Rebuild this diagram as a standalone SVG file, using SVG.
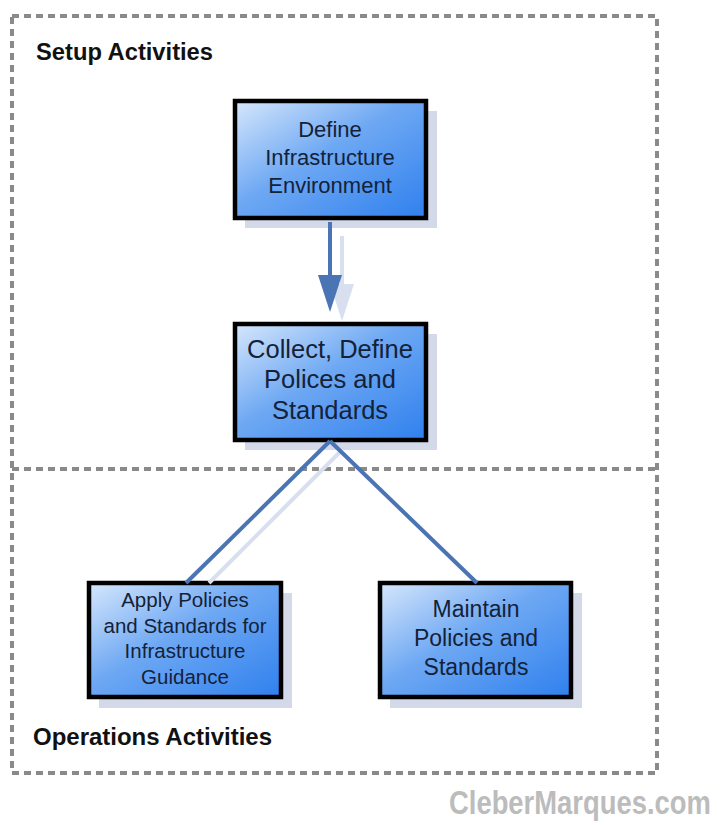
<svg xmlns="http://www.w3.org/2000/svg" width="721" height="825" viewBox="0 0 721 825">
<defs>
<linearGradient id="g" x1="0" y1="0" x2="1" y2="1">
<stop offset="0" stop-color="#d6e7fc"/>
<stop offset="0.45" stop-color="#6ea8f3"/>
<stop offset="1" stop-color="#2f80ee"/>
</linearGradient>
<style>
.box{fill:url(#g);stroke:#000;stroke-width:4.5}
.sh{fill:#d3d9e8}
.t{font-family:"Liberation Sans",Arial,sans-serif;fill:#142238;text-anchor:middle}
.lbl{font-family:"Liberation Sans",Arial,sans-serif;font-weight:bold;font-size:23px;fill:#111}
.dash{fill:none;stroke:#8a8a8a;stroke-width:4;stroke-dasharray:7,5}
.con{stroke:#4a74b4;stroke-width:4;fill:none}
.csh{stroke:#d8e0ef;stroke-width:4;fill:none}
</style>
</defs>
<rect width="721" height="825" fill="#fff"/>
<g id="frame">
<rect class="dash" x="12" y="16" width="645" height="757"/>
<line class="dash" x1="12" y1="469" x2="657" y2="469"/>
<text class="lbl" x="36" y="60" textLength="177" lengthAdjust="spacingAndGlyphs">Setup Activities</text>
<text class="lbl" x="33" y="745" textLength="239" lengthAdjust="spacingAndGlyphs">Operations Activities</text>
</g>
<g id="n1">
<rect class="sh" x="245" y="111" width="192" height="117"/>
<rect class="box" x="235" y="101" width="191" height="117"/>
<text class="t" font-size="22"><tspan x="330" y="137">Define</tspan><tspan x="330" y="165">Infrastructure</tspan><tspan x="330" y="193">Environment</tspan></text>
</g>
<g id="n2">
<rect class="sh" x="245" y="334" width="192" height="116"/>
<rect class="box" x="235" y="324" width="191" height="116"/>
<text class="t" font-size="25.5"><tspan x="330" y="358">Collect, Define</tspan><tspan x="330" y="388">Polices and</tspan><tspan x="330" y="419">Standards</tspan></text>
</g>
<g id="n3">
<rect class="sh" x="99" y="593" width="193" height="115"/>
<rect class="box" x="89" y="583" width="192" height="114"/>
<text class="t" font-size="20.5"><tspan x="185" y="607">Apply Policies</tspan><tspan x="185" y="633">and Standards for</tspan><tspan x="185" y="658">Infrastructure</tspan><tspan x="185" y="684">Guidance</tspan></text>
</g>
<g id="n4">
<rect class="sh" x="390" y="593" width="192" height="115"/>
<rect class="box" x="380" y="583" width="191" height="114"/>
<text class="t" font-size="23"><tspan x="476" y="617">Maintain</tspan><tspan x="476" y="646">Policies and</tspan><tspan x="476" y="675">Standards</tspan></text>
</g>
<g id="connectors">
<line class="csh" x1="342" y1="236" x2="342" y2="285"/>
<polygon points="330,284 354,284 342,321" fill="#d8e0ef"/>
<line class="con" x1="330" y1="222" x2="330" y2="278"/>
<polygon points="318,275 342,275 330,312" fill="#4a74b4"/>
<line class="csh" x1="341" y1="451" x2="209" y2="583"/>
<line class="con" x1="330" y1="441" x2="186" y2="583"/>
<line class="con" x1="330" y1="441" x2="477" y2="583"/>
</g>
<g id="watermark" transform="translate(449,814) scale(1,1.24)">
<text x="0" y="0" font-family="'Liberation Sans',Arial,sans-serif" font-weight="bold" font-size="27.4" fill="#bcbcbc">CleberMarques.com</text>
</g>
</svg>
